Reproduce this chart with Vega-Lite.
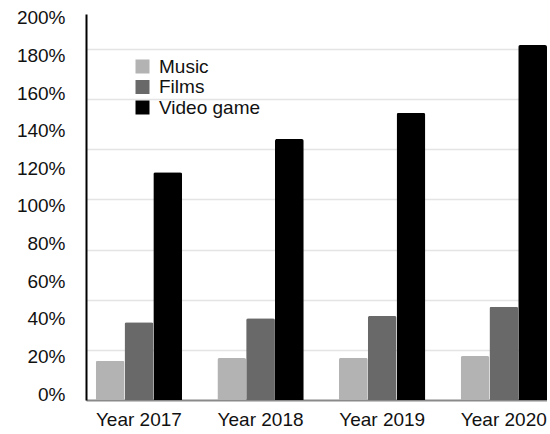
{
  "$schema": "https://vega.github.io/schema/vega-lite/v6.json",
  "width": 461,
  "height": 386,
  "padding": {"left": 16, "top": 8, "right": 0, "bottom": 0},
  "background": "white",
  "config": {
    "view": {"stroke": null},
    "font": "Liberation Sans",
    "axis": {"labelFont": "Liberation Sans", "labelFontSize": 19, "labelColor": "#111111", "title": null}
  },
  "data": {
    "values": [
      {"Year": "Year 2017", "Category": "Music", "Value": 20.9},
      {"Year": "Year 2017", "Category": "Films", "Value": 41.3},
      {"Year": "Year 2017", "Category": "Video game", "Value": 121.1},
      {"Year": "Year 2018", "Category": "Music", "Value": 22.3},
      {"Year": "Year 2018", "Category": "Films", "Value": 43.5},
      {"Year": "Year 2018", "Category": "Video game", "Value": 138.8},
      {"Year": "Year 2019", "Category": "Music", "Value": 22.5},
      {"Year": "Year 2019", "Category": "Films", "Value": 44.7},
      {"Year": "Year 2019", "Category": "Video game", "Value": 152.7},
      {"Year": "Year 2020", "Category": "Music", "Value": 23.4},
      {"Year": "Year 2020", "Category": "Films", "Value": 49.6},
      {"Year": "Year 2020", "Category": "Video game", "Value": 188.8}
    ]
  },
  "resolve": {"axis": {"y": "independent"}},
  "layer": [
    {
      "mark": {"type": "rule", "opacity": 0},
      "encoding": {
        "y": {
          "field": "Value",
          "type": "quantitative",
          "scale": {"domain": [0, 205.3], "nice": false, "zero": true},
          "axis": {
            "orient": "left",
            "values": [26.6, 53.2, 79.8, 106.7, 133.3, 160, 186.7],
            "grid": true,
            "gridColor": "#e4e4e4",
            "gridWidth": 1.5,
            "labels": false,
            "ticks": false,
            "domain": false
          }
        }
      }
    },
    {
      "mark": {"type": "bar", "cornerRadiusTopLeft": 2, "cornerRadiusTopRight": 2},
      "encoding": {
        "x": {
          "field": "Year",
          "type": "nominal",
          "scale": {"paddingInner": 0.29, "paddingOuter": 0.04, "align": 1},
          "axis": {
            "labelAngle": 0,
            "ticks": false,
            "labelPadding": 10,
            "domainColor": "#8a8a8a",
            "domainWidth": 2,
            "grid": false
          }
        },
        "xOffset": {
          "field": "Category",
          "type": "nominal",
          "sort": ["Music", "Films", "Video game"]
        },
        "y": {
          "field": "Value",
          "type": "quantitative",
          "scale": {"domain": [0, 205.3], "nice": false, "zero": true},
          "axis": {
            "orient": "left",
            "values": [0, 20, 40, 60, 80, 100, 120, 140, 160, 180, 200],
            "labelExpr": "datum.value + '%'",
            "grid": false,
            "ticks": false,
            "domainColor": "#000000",
            "domainWidth": 2,
            "labelPadding": 21,
            "labelBaseline": "alphabetic"
          }
        },
        "color": {
          "field": "Category",
          "type": "nominal",
          "sort": ["Music", "Films", "Video game"],
          "scale": {"domain": ["Music", "Films", "Video game"], "range": ["#b3b3b3", "#696969", "#000000"]},
          "legend": {
            "title": null,
            "orient": "none",
            "legendX": 47,
            "legendY": 43,
            "padding": 0,
            "symbolType": "square",
            "symbolSize": 196,
            "symbolStrokeWidth": 0,
            "labelFont": "Liberation Sans",
            "labelFontSize": 19,
            "labelColor": "#111111",
            "labelOffset": 7,
            "rowPadding": 0.5
          }
        }
      }
    }
  ]
}
